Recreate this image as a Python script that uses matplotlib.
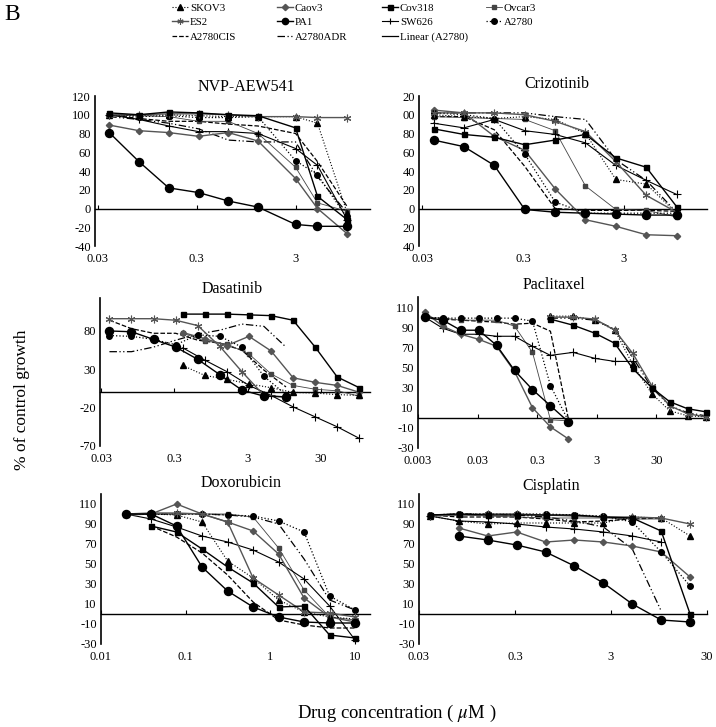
import matplotlib
matplotlib.use('Agg')
import matplotlib.pyplot as plt
from matplotlib.lines import Line2D
from matplotlib.ticker import NullLocator

plt.rcParams['font.family'] = 'Liberation Serif'
plt.rcParams['mathtext.fontset'] = 'stix'

W, H = 716, 727   # figure size in pixels

# ---- concentrations (uM) ----
c9 = [0.039, 0.078, 0.156, 0.3125, 0.625, 1.25, 2.5, 5, 10]
c9_nvp = [0.039, 0.078, 0.156, 0.3125, 0.625, 1.25, 3, 5, 10]
c9_hi = [0.39, 0.78, 1.56, 3.125, 6.25, 12.5, 25, 50, 100]
c9_low = [0.0039, 0.0078, 0.0156, 0.03125, 0.0625, 0.125, 0.25, 0.5, 1.0]
c9_pac_hi = [0.5, 1.2, 2.8, 6, 12, 25, 50, 100, 200]
c12_pac_sw = [0.0039, 0.0078, 0.0156, 0.03125, 0.0625, 0.125, 0.25, 0.5, 1.2, 2.8, 6, 12]
c10_dox = [0.0195, 0.039, 0.078, 0.156, 0.3125, 0.625, 1.25, 2.5, 5, 10]
c10_cis = [0.039, 0.078, 0.156, 0.3125, 0.625, 1.25, 2.5, 5, 10, 20]

# ---- NVP-AEW541 ----
nvp = {
    'A2780CIS': (c9_nvp, [100, 96, 93, 93, 90, 88, 80, 50, 2]),
    'A2780ADR': (c9_nvp, [98, 95, 91, 85, 73, 71, 71, 34, -5]),
    'Ovcar3':   (c9_nvp, [100, 99, 98, 93, 93, 80, 44, 6, -3]),
    'SW626':    (c9_nvp, [100, 95, 88, 82, 82, 80, 64, 46, -12]),
    'Caov3':    (c9_nvp, [89, 83, 81, 77, 81, 72, 32, 0, -27]),
    'A2780':    (c9_nvp, [100, 98, 99, 97, 97, 98, 51, 36, -10]),
    'SKOV3':    (c9_nvp, [100, 99, 100, 99, 98, 98, 98, 91, -5]),
    'ES2':      (c9_nvp, [100, 100, 101, 101, 100, 98, 98, 97, 97]),
    'Cov318':   (c9_nvp, [102, 100, 103, 102, 100, 99, 86, 13, -12]),
    'PA1':      (c9_nvp, [81, 50, 22, 17, 8, 1.5, -17, -19, -19]),
}

# ---- Crizotinib ----
criz = {
    'A2780CIS': (c9, [98, 98, 84, 45, 0, -2, -2, -2, -3]),
    'A2780ADR': (c9, [102, 102, 102, 102, 98, 95, 52, 30, -4]),
    'Ovcar3':   (c9, [98, 97, 96, 95, 83, 24, -1, -2, -9]),
    'SW626':    (c9, [91, 86, 95, 83, 79, 70, 46, 30, 15]),
    'Caov3':    (c9, [105, 102, 77, 62, 21, -12, -19, -28, -29]),
    'A2780':    (c9, [102, 100, 96, 58, 7, -5, -5, -5, -5]),
    'SKOV3':    (c9, [100, 98, 96, 98, 95, 80, 31, 26, -5]),
    'ES2':      (c9, [102, 102, 102, 100, 93, 82, 50, 14, -4]),
    'Cov318':   (c9, [85, 79, 76, 68, 73, 79, 54, 44, 2]),
    'PA1':      (c9, [73, 66, 46, -1, -4, -5, -6, -7, -7]),
}

# ---- Dasatinib ----
dasa = {
    'A2780CIS': (c9, [94, 83, 77, 77, 68, 64, 55, 29, 7]),
    'A2780ADR': (c9, [53, 53, 59, 68, 76, 81, 89, 86, 59]),
    'Ovcar3':   (c9_hi, [77, 67, 63, 50, 24, 9, 4, 2, -5]),
    'SW626':    (c9_hi, [58, 42, 27, 9, -4, -19, -32, -45, -60]),
    'Caov3':    (c9_hi, [78, 70, 61, 73, 54, 19, 13, 9, 0]),
    'A2780':    (c9, [74, 73, 69, 62, 75, 73, 59, 21, -3]),
    'SKOV3':    (c9_hi, [35, 22, 17, 11, 6, 0, -1, -3, -4]),
    'ES2':      (c9, [96, 96, 96, 94, 87, 60, 27, -4, -6]),
    'Cov318':   (c9_hi, [102, 102, 102, 101, 100, 94, 59, 20, 6]),
    'PA1':      (c9, [80, 79, 69, 59, 43, 23, 3, -5, -6]),
}

# ---- Paclitaxel ----
pacl = {
    'A2780CIS': (c9_low, [99, 98, 97, 96, 95, 93, 94, 86, -1]),
    'A2780ADR': (c9_pac_hi, [99, 99, 97, 88, 60, 30, 12, 5, 2]),
    'Ovcar3':   (c9_low, [100, 99, 97, 97, 97, 91, 65, -2, -3]),
    'SW626':    (c12_pac_sw, [100, 89, 83, 83, 81, 81, 71, 62, 65, 59, 56, 56]),
    'Caov3':    (c9_low, [105, 91, 83, 78, 71, 46, 10, -9, -21]),
    'A2780':    (c9_low, [100, 99, 99, 99, 99, 99, 96, 32, -3]),
    'SKOV3':    (c9_pac_hi, [101, 101, 97, 87, 53, 24, 7, 2, 1]),
    'ES2':      (c9_pac_hi, [100, 100, 98, 87, 64, 32, 12, 4, 1]),
    'Cov318':   (c9_pac_hi, [98, 92, 84, 74, 49, 30, 16, 9, 6]),
    'PA1':      (c9_low, [100, 97, 87, 87, 72, 47, 28, 12, -4]),
}

# ---- Doxorubicin ----
doxo = {
    'A2780CIS': (c10_dox[1:], [88, 77, 61, 39, 12, -6, -11, -14, -14]),
    'A2780ADR': (c10_dox, [100, 100, 100, 100, 99, 97, 90, 55, 14, 4]),
    'Ovcar3':   (c10_dox, [100, 100, 100, 100, 100, 97, 66, 24, -3, -6]),
    'SW626':    (c10_dox, [100, 95, 87, 78, 72, 64, 52, 35, 8, -26]),
    'Caov3':    (c10_dox, [99, 100, 110, 100, 92, 83, 60, 16, -3, -8]),
    'A2780':    (c10_dox, [100, 100, 100, 100, 99, 98, 93, 82, 18, 4]),
    'SKOV3':    (c10_dox, [100, 100, 99, 92, 53, 36, 14, 2, -3, -5]),
    'ES2':      (c10_dox, [100, 101, 101, 100, 92, 36, 19, 2, 1, -3]),
    'Cov318':   (c10_dox[1:], [88, 82, 65, 47, 31, 7, 8, -21, -24]),
    'PA1':      (c10_dox, [100, 100, 88, 47, 23, 7, -3, -8, -9, -9]),
}

# ---- Cisplatin ----
cisp = {
    'A2780CIS': (c10_cis[:9], [99, 97, 97, 97, 95, 92, 93, 95, 96]),
    'A2780ADR': (c10_cis[:9], [99, 100, 100, 99, 97, 93, 87, 65, 3]),
    'Ovcar3':   (c10_cis[:9], [99, 99, 98, 97, 96, 96, 96, 95, 95]),
    'SW626':    (c10_cis[:9], [98, 93, 92, 90, 87, 85, 82, 78, 72]),
    'Caov3':    (c10_cis[1:], [86, 78, 82, 72, 74, 72, 68, 62, 37]),
    'A2780':    (c10_cis, [99, 100, 100, 100, 100, 99, 98, 92, 62, 28]),
    'SKOV3':    (c10_cis, [98, 93, 90, 91, 91, 91, 91, 97, 96, 78]),
    'ES2':      (c10_cis, [98, 99, 100, 100, 99, 98, 97, 97, 96, 90]),
    'Cov318':   (c10_cis, [99, 100, 99, 99, 99, 99, 97, 96, 83, 0]),
    'PA1':      (c10_cis[1:], [78, 74, 69, 62, 48, 31, 10, -6, -8]),
}

dashdotdot = (0, (6, 2, 1, 2, 1, 2))
styles = {
    'SKOV3':    dict(ls=':', marker='^', ms=4, color='black', lw=0.8),
    'Caov3':    dict(ls='-', marker='D', ms=3.2, color='#555555', lw=1.0),
    'Cov318':   dict(ls='-', marker='s', ms=3.6, color='black', lw=1.0),
    'Ovcar3':   dict(ls='-', marker='s', ms=2.3, color='#444444', lw=0.6),
    'ES2':      dict(ls='-', marker=(6, 2, 0), ms=5.5, color='#555555', lw=1.0, mew=0.8),
    'PA1':      dict(ls='-', marker='o', ms=5.8, color='black', lw=1.0),
    'SW626':    dict(ls='-', marker='+', ms=5.5, color='black', lw=0.8, mew=0.8),
    'A2780':    dict(ls=':', marker='o', ms=4, color='black', lw=0.9),
    'A2780CIS': dict(ls='--', marker='None', color='black', lw=0.9),
    'A2780ADR': dict(ls=dashdotdot, marker='None', color='black', lw=0.9),
    'Linear (A2780)': dict(ls='-', marker='None', color='black', lw=0.9),
}

fig = plt.figure(figsize=(W / 100, H / 100), dpi=100)


def panel(box, data, xlim, ylim, xticks, xlabels, yticks, ylabels):
    l, t, r, b = box
    ax = fig.add_axes([l / W, 1 - b / H, (r - l) / W, (b - t) / H])
    ax.set_xscale('log')
    for name, (x, y) in data.items():
        ax.plot(x, y, clip_on=False, **styles[name])
    ax.set_xlim(xlim)
    ax.set_ylim(ylim)
    for s in ['top', 'right', 'bottom']:
        ax.spines[s].set_visible(False)
    ax.spines['left'].set_linewidth(1.2)
    ax.set_xticks(xticks)
    ax.set_xticklabels(xlabels)
    ax.xaxis.set_minor_locator(NullLocator())
    ax.tick_params(axis='x', length=0, pad=5, labelsize=9)
    ax.set_yticks(yticks)
    ax.set_yticklabels(ylabels)
    ax.tick_params(axis='y', length=0, pad=3, labelsize=9)
    # horizontal axis crossing at zero, with tick marks
    sec = ax.secondary_xaxis((0 - ylim[0]) / (ylim[1] - ylim[0]))
    sec.set_xticks(xticks)
    sec.xaxis.set_minor_locator(NullLocator())
    sec.tick_params(direction='in', length=3, width=0.8, labelbottom=False, labeltop=False)
    sec.spines['bottom'].set_linewidth(1.0)
    return ax


panel((95, 96, 370, 246), nvp, (0.028, 17), (-40, 120),
      [0.03, 0.3, 3], ['0.03', '0.3', '3'],
      list(range(-40, 121, 20)), [str(v) for v in range(-40, 121, 20)])
panel((419, 96, 707, 246), criz, (0.028, 20), (-40, 120),
      [0.03, 0.3, 3], ['0.03', '0.3', '3'],
      list(range(-40, 121, 20)), ['40', '20', '0', '20', '40', '60', '80', '00', '20'])
panel((100, 298, 370, 446), dasa, (0.029, 140), (-70, 123),
      [0.03, 0.3, 3, 30], ['0.03', '0.3', '3', '30'],
      [-70, -20, 30, 80], ['-70', '-20', '30', '80'])
panel((418, 297, 708, 448), pacl, (0.003, 220), (-30, 120),
      [0.003, 0.03, 0.3, 3, 30], ['0.003', '0.03', '0.3', '3', '30'],
      list(range(-30, 111, 20)), [str(v) for v in range(-30, 111, 20)])
panel((101, 494, 370, 644), doxo, (0.01, 15), (-30, 120),
      [0.01, 0.1, 1, 10], ['0.01', '0.1', '1', '10'],
      list(range(-30, 111, 20)), [str(v) for v in range(-30, 111, 20)])
panel((419, 494, 707, 644), cisp, (0.03, 30), (-30, 120),
      [0.03, 0.3, 3, 30], ['0.03', '0.3', '3', '30'],
      list(range(-30, 111, 20)), [str(v) for v in range(-30, 111, 20)])


def ftext(x, y, s, **kw):
    fig.text(x / W, 1 - y / H, s, ha='center', va='center', **kw)


ftext(246, 87, 'NVP-AEW541', fontsize=11.5)
ftext(557, 84, 'Crizotinib', fontsize=11.5)
ftext(232, 289, 'Dasatinib', fontsize=11.5)
ftext(554, 285, 'Paclitaxel', fontsize=11.5)
ftext(241, 483, 'Doxorubicin', fontsize=11.5)
ftext(551, 486, 'Cisplatin', fontsize=11.5)
ftext(22, 400, '% of control growth', fontsize=12.5, rotation=90)
ftext(397, 713, r'Drug concentration ( $\mu$M )', fontsize=13.5)
fig.text(4 / W, 1 - 15 / H, 'B', fontsize=17, ha='left', va='center')

# legend, one column at a time
columns = [(172, ['SKOV3', 'ES2', 'A2780CIS']),
           (277, ['Caov3', 'PA1', 'A2780ADR']),
           (382, ['Cov318', 'SW626', 'Linear (A2780)']),
           (486, ['Ovcar3', 'A2780'])]
for x0, names in columns:
    handles = []
    for n in names:
        st = dict(styles[n])
        st['ms'] = min(st.get('ms', 4), 4.5)
        handles.append(Line2D([], [], **st))
    fig.legend(handles, names, loc='upper left', bbox_to_anchor=(x0 / W, 1 - 3 / H),
               frameon=False, fontsize=7.8, handlelength=1.5, handletextpad=0.15,
               labelspacing=0.45, borderaxespad=0, borderpad=0)

plt.savefig('out.png', dpi=100)
